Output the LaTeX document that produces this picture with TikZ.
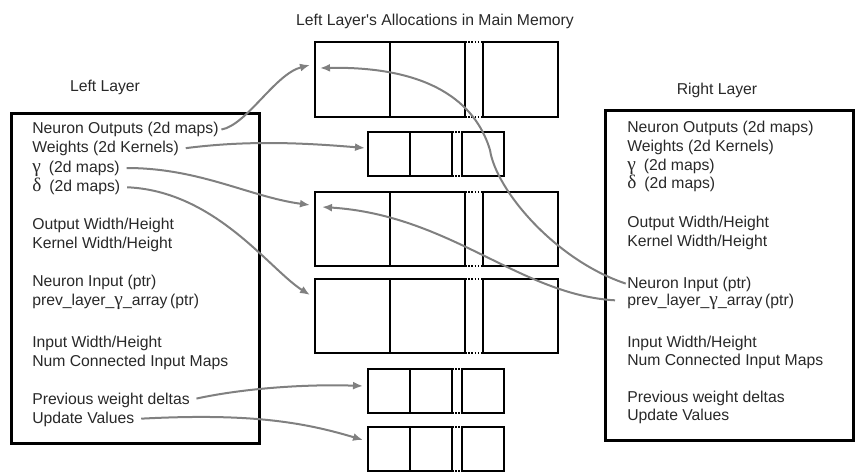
\documentclass[tikz,border=0pt]{standalone}
\usepackage{fontspec}
\setmainfont{Liberation Sans}
\newfontfamily\greekfont{Liberation Serif}
\usetikzlibrary{arrows.meta, positioning, calc}
\definecolor{linkgray}{RGB}{128,128,128}
\definecolor{textgray}{RGB}{40,40,40}
\newcommand{\gm}{{\greekfont\fontsize{14.5}{14}\selectfont γ}}
\newcommand{\dl}{{\greekfont\fontsize{14.5}{14}\selectfont δ}}

\tikzset{
  layerbox/.style={draw=black, line width=2pt, minimum width=186pt, minimum height=247.5pt, anchor=north west, inner sep=0pt},
  item/.style={anchor=base west, inner sep=0pt, text height=9pt, text depth=3pt, text=textgray, font=\fontsize{11.8}{14}\selectfont},
  heading/.style={anchor=base, inner sep=0pt, text=textgray, font=\fontsize{11.8}{14}\selectfont},
  cell/.style={draw=black, inner sep=0pt, outer sep=0pt},
  gapdots/.style={draw=black, dash pattern=on 1.2pt off 1.2pt},
  link/.style={draw=linkgray, line width=1.5pt, -{Latex[length=7.5pt,width=6pt]}, shorten <=5pt}
}

\begin{document}
\begin{tikzpicture}[x=0.75pt, y=-0.75pt]
  \useasboundingbox (0,0) rectangle (860,474);

  % titles
  \node[heading] (ttop) at (435,26) {Left Layer\textquotesingle s Allocations in Main Memory};
  \node[heading] (tleft) at (105,92) {Left Layer};
  \node[heading] (tright) at (717,95) {Right Layer};

  % layer boxes
  \node[layerbox] (lbox) at (10,112) {};
  \node[layerbox] (rbox) at (604,109) {};

  % left layer fields
  \node[item] (lno) at (32,134) {Neuron Outputs (2d maps)};
  \node[item] (lwt) at (32,153) {Weights (2d Kernels)};
  \node[item] (lgm) at (32,172) {\gm\hspace{6pt}(2d maps)};
  \node[item] (ldl) at (32,191) {\dl\hspace{6pt}(2d maps)};
  \node[item] (low) at (32,229) {Output Width/Height};
  \node[item] (lkw) at (32,248) {Kernel Width/Height};
  \node[item] (lni) at (32,286) {Neuron Input (ptr)};
  \node[item] (lpg) at (32,305) {prev\_layer\_\gm\_array\,(ptr)};
  \node[item] (liw) at (32,347) {Input Width/Height};
  \node[item] (lnc) at (32,366) {Num Connected Input Maps};
  \node[item] (lpw) at (32,404) {Previous weight deltas};
  \node[item] (luv) at (32,423) {Update Values};

  % right layer fields
  \node[item] (rno) at (627,133) {Neuron Outputs (2d maps)};
  \node[item] (rwt) at (627,152) {Weights (2d Kernels)};
  \node[item] (rgm) at (627,171) {\gm\hspace{6pt}(2d maps)};
  \node[item] (rdl) at (627,189) {\dl\hspace{6pt}(2d maps)};
  \node[item] (row) at (627,227) {Output Width/Height};
  \node[item] (rkw) at (627,246) {Kernel Width/Height};
  \node[item] (rni) at (627,288) {Neuron Input (ptr)};
  \node[item] (rpg) at (627,305) {prev\_layer\_\gm\_array\,(ptr)};
  \node[item] (riw) at (627,347) {Input Width/Height};
  \node[item] (rnc) at (627,365) {Num Connected Input Maps};
  \node[item] (rpw) at (627,402) {Previous weight deltas};
  \node[item] (ruv) at (627,420) {Update Values};

  % allocations in main memory: name/x/y/cell width/height/gap/line width
  \foreach \blk/\x/\y/\w/\h/\g/\lw in {m1/315/42/75/75/18/1.6pt, m2/368/132/42/44/10/1.2pt,
      m3/315/192/75/74/18/1.6pt, m4/315/279/75/74/18/1.6pt,
      m5/368/369/42/44/10/1.2pt, m6/368/427/42/44/10/1.2pt} {
    \node[cell, line width=\lw, minimum width=\w*0.75pt, minimum height=\h*0.75pt] (\blk-a) at (\x+\w/2,\y+\h/2) {};
    \node[cell, line width=\lw, minimum width=\w*0.75pt, minimum height=\h*0.75pt, right=0pt of \blk-a] (\blk-b) {};
    \node[cell, line width=\lw, minimum width=\w*0.75pt, minimum height=\h*0.75pt, right=\g*0.75pt of \blk-b] (\blk-c) {};
    \draw[gapdots, line width=\lw] (\blk-b.north east) -- (\blk-c.north west);
    \draw[gapdots, line width=\lw] (\blk-b.south east) -- (\blk-c.south west);
  }

  % arrow targets
  \coordinate (in-no) at ($(m1-a.west)+(-5,-14.5)$);
  \coordinate (in-wt) at ($(m2-a.west)+(-3,-6)$);
  \coordinate (in-gm) at ($(m3-a.west)+(-5,-24)$);
  \coordinate (in-dl) at ($(m4-a.west)+(-5,-21)$);
  \coordinate (in-pw) at ($(m5-a.west)+(-5,-5)$);
  \coordinate (in-uv) at ($(m6-a.west)+(-5,-9)$);
  \coordinate (in-ni) at ($(m1-a.west)+(5,-11.5)$);
  \coordinate (in-pg) at ($(m3-a.west)+(7,-22)$);

  % pointers
  \draw[link, shorten <=2pt] (lno.east) .. controls +(28,-5) and +(-35,9) .. (in-no);
  \draw[link] (lwt.east) .. controls +(70,-9) and +(-60,-5) .. (in-wt);
  \draw[link] (lgm.east) .. controls +(80,0) and +(-60,-8) .. (in-gm);
  \draw[link] (ldl.east) .. controls +(95,4) and +(-40,-25) .. (in-dl);
  \draw[link] (lpw.east) .. controls +(55,-12) and +(-55,-2) .. (in-pw);
  \draw[link] (luv.east) .. controls +(115,-6) and +(-60,-18) .. (in-uv);
  \draw[link, shorten <=1pt] (rni.west) .. controls +(-72,-24) and +(6,40) .. (490,150)
    .. controls +(-12,-40) and +(120,-2) .. (in-ni);
  \draw[link, shorten <=9pt] (rpg.west) .. controls +(-107,-6) and +(128,8) .. (in-pg);
\end{tikzpicture}
\end{document}
